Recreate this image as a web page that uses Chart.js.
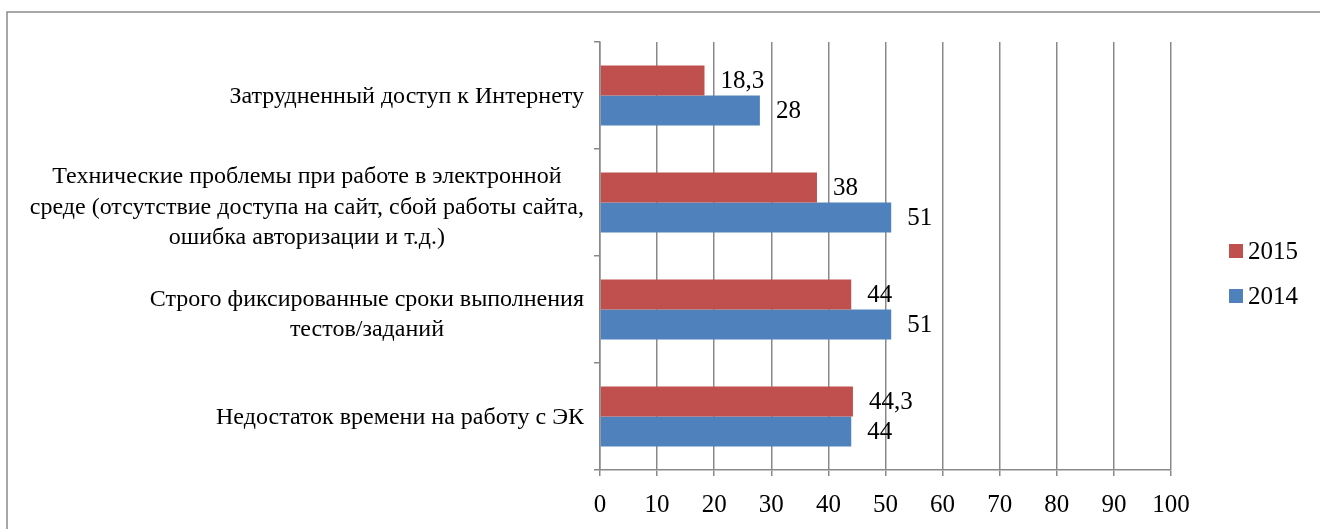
<!DOCTYPE html>
<html>
<head>
<meta charset="utf-8">
<script src="https://cdn.jsdelivr.net/npm/chart.js@4.4.1/dist/chart.umd.min.js"></script>
<style>
  html, body { margin: 0; padding: 0; background: #ffffff; }
  #wrap { width: 1320px; height: 529px; position: relative; }
</style>
</head>
<body>
<div id="wrap"><canvas id="c" width="1320" height="529"></canvas></div>
<script>
const categories = [
  ["Затрудненный доступ к Интернету"],
  ["Технические проблемы при работе в электронной", "среде (отсутствие доступа на сайт, сбой работы сайта,", "ошибка авторизации и т.д.)"],
  ["Строго фиксированные сроки выполнения", "тестов/заданий"],
  ["Недостаток времени на работу с ЭК"]
];
const seriesNames = ["2015", "2014"];
const values2015 = [18.3, 38, 44, 44.3];
const values2014 = [28, 51, 51, 44];
const xTicks = [0, 10, 20, 30, 40, 50, 60, 70, 80, 90, 100];
const seriesColors = ["#C0504D", "#4F81BD"];

const SERIF = '"Liberation Serif", "Times New Roman", serif';
const GRID = '#898989';

const frame = {
  id: 'frame',
  beforeDraw(chart) {
    const ctx = chart.ctx;
    ctx.save();
    ctx.strokeStyle = '#8a8a8a';
    ctx.lineWidth = 1.5;
    ctx.beginPath();
    ctx.moveTo(7, 529);
    ctx.lineTo(7, 12);
    ctx.lineTo(1320, 12);
    ctx.stroke();
    ctx.restore();
  }
};

const catLabels = {
  id: 'catLabels',
  afterDraw(chart) {
    const ctx = chart.ctx;
    const yScale = chart.scales.y;
    ctx.save();
    ctx.font = '24px ' + SERIF;
    ctx.fillStyle = '#000';
    ctx.textAlign = 'center';
    ctx.textBaseline = 'middle';
    const right = 584;
    const lh = 30.5;
    categories.forEach((lines, i) => {
      const cy = yScale.getPixelForValue(i) + (lines.length > 1 ? 5 : 1.5);
      const maxW = Math.max(...lines.map(l => ctx.measureText(l).width));
      const cx = right - maxW / 2;
      const y0 = cy - (lines.length - 1) * lh / 2;
      lines.forEach((l, k) => ctx.fillText(l, cx, y0 + k * lh));
    });
    ctx.restore();
  }
};

const dataLabels = {
  id: 'dataLabels',
  afterDatasetsDraw(chart) {
    const ctx = chart.ctx;
    ctx.save();
    ctx.font = '25px ' + SERIF;
    ctx.fillStyle = '#000';
    ctx.textAlign = 'left';
    ctx.textBaseline = 'middle';
    chart.data.datasets.forEach((ds, di) => {
      const meta = chart.getDatasetMeta(di);
      meta.data.forEach((bar, i) => {
        const txt = String(ds.data[i]).replace('.', ',');
        ctx.fillText(txt, bar.x + 16, bar.y + 1);
      });
    });
    ctx.restore();
  }
};

const legendPlugin = {
  id: 'customLegend',
  afterDraw(chart) {
    const ctx = chart.ctx;
    ctx.save();
    ctx.font = '25px ' + SERIF;
    ctx.textBaseline = 'middle';
    ctx.textAlign = 'left';
    const ys = [251, 296];
    chart.data.datasets.forEach((ds, i) => {
      ctx.fillStyle = ds.backgroundColor;
      ctx.fillRect(1229, ys[i] - 7, 14, 14);
      ctx.fillStyle = '#000';
      ctx.fillText(ds.label, 1248, ys[i] + 1);
    });
    ctx.restore();
  }
};

new Chart(document.getElementById('c'), {
  type: 'bar',
  data: {
    labels: categories.map(c => c.join(' ')),
    datasets: [
      { label: seriesNames[0], data: values2015, backgroundColor: seriesColors[0], borderWidth: 0 },
      { label: seriesNames[1], data: values2014, backgroundColor: seriesColors[1], borderWidth: 0 }
    ]
  },
  options: {
    indexAxis: 'y',
    responsive: false,
    animation: false,
    devicePixelRatio: 1,
    layout: { padding: { top: 42, right: 149, left: 0, bottom: 0 } },
    datasets: { bar: { categoryPercentage: 0.56, barPercentage: 1.0 } },
    plugins: { legend: { display: false }, tooltip: { enabled: false } },
    scales: {
      x: {
        min: 0, max: 100,
        afterBuildTicks(scale) { scale.ticks = xTicks.map(v => ({ value: v })); },
        afterFit(scale) { scale.height = 59; },
        ticks: { font: { family: SERIF, size: 25 }, color: '#000', padding: 14, autoSkip: false, maxRotation: 0 },
        grid: { color: GRID, lineWidth: 1.5, drawTicks: true, tickLength: 6, tickColor: GRID },
        border: { display: true, color: GRID, width: 1.5 }
      },
      y: {
        afterFit(scale) { scale.width = 600; },
        ticks: { display: false },
        grid: { offset: true, drawOnChartArea: false, drawTicks: true, tickLength: 6, color: GRID, lineWidth: 1.5 },
        border: { display: true, color: GRID, width: 1.5 }
      }
    }
  },
  plugins: [frame, catLabels, dataLabels, legendPlugin]
});
</script>
</body>
</html>
